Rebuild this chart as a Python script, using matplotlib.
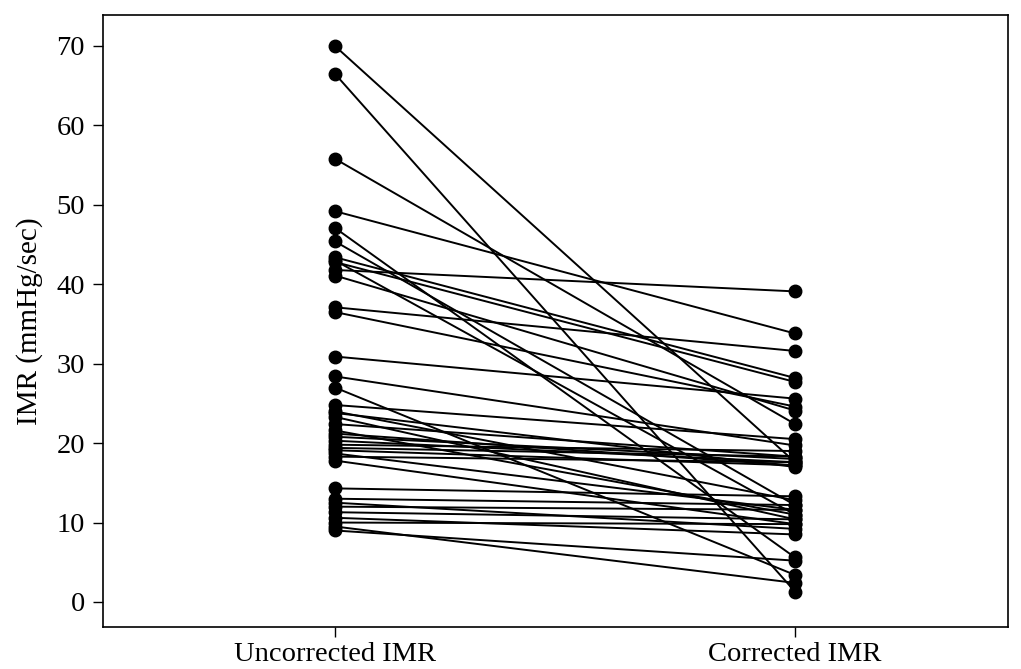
import numpy as np
from matplotlib import pyplot as plt

plt.rcParams['font.family'] = ['Liberation Serif', 'DejaVu Serif']

# paired IMR values, one patient per entry
uncorrected = [70.0, 66.5, 55.8, 49.2, 47.1, 45.4, 43.4, 42.8, 41.8, 41.1,
               37.1, 36.5, 30.9, 28.4, 27.0, 24.8, 24.0, 23.3, 22.4, 21.6,
               21.2, 20.8, 20.3, 19.8, 19.4, 19.1, 18.7, 18.3, 17.8, 14.3,
               13.0, 12.5, 12.0, 11.3, 10.6, 10.0, 9.5, 9.0, 43.0, 23.8]
corrected = [17.6, 1.3, 22.4, 33.8, 5.6, 12.2, 28.2, 27.7, 39.1, 24.1,
             31.6, 24.6, 25.6, 19.7, 3.4, 20.5, 12.8, 10.4, 18.3, 11.0,
             17.2, 18.0, 17.6, 19.0, 18.3, 17.2, 11.6, 17.6, 9.8, 13.3,
             12.2, 9.2, 11.6, 10.4, 8.5, 9.8, 2.4, 5.2, 11.0, 17.0]
groups = ['Uncorrected IMR', 'Corrected IMR']

fig = plt.figure(figsize=(10.21, 6.69), dpi=100)
ax = fig.add_axes([0.1009, 0.0628, 0.8864, 0.9148])

for u, c in zip(uncorrected, corrected):
    ax.plot([1, 2], [u, c], color='black', lw=1.4, marker='o',
            markersize=9, markerfacecolor='black', markeredgecolor='black')

ax.set_xlim(0.496, 2.463)
ax.set_ylim(-3.15, 73.9)
ax.set_xticks([1, 2])
ax.set_xticklabels(groups, fontsize=20.5)
ax.set_yticks(np.arange(0, 71, 10))
ax.set_ylabel('IMR (mmHg/sec)', fontsize=21, labelpad=10)
ax.tick_params(axis='y', labelsize=20.5, pad=6)
ax.tick_params(direction='out', length=7, width=1)
for s in ax.spines.values():
    s.set_linewidth(1.2)

fig.savefig('out.png', dpi=100)
